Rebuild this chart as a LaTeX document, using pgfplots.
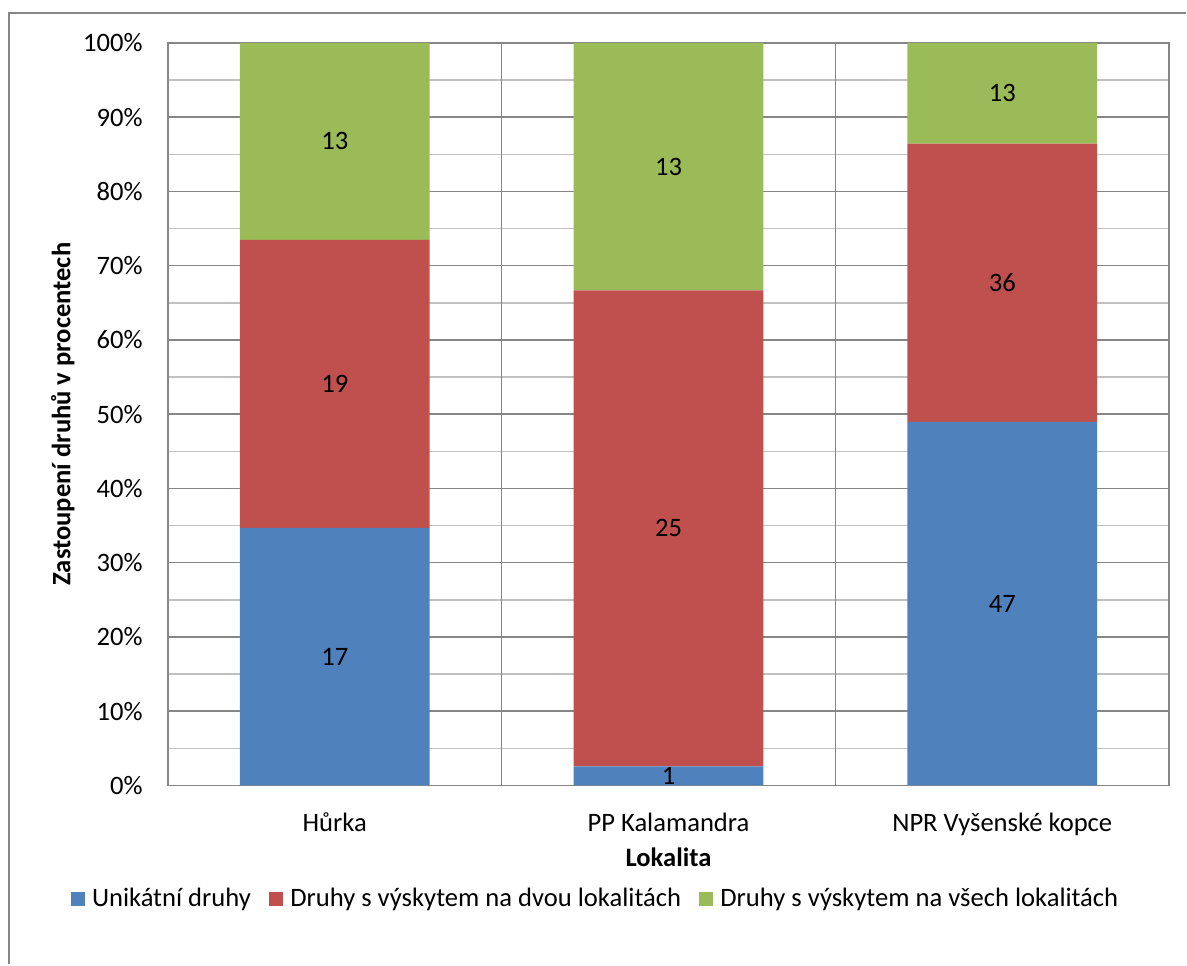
\documentclass[border=0pt]{standalone}
\usepackage{pgfplots}
\usepackage{pgfplotstable}
\pgfplotsset{compat=1.18}
\usepackage{fontspec}
\setmainfont{Carlito}
\definecolor{cblue}{HTML}{4F81BD}
\definecolor{cred}{HTML}{C0504D}
\definecolor{cgreen}{HTML}{9BBB59}
\definecolor{axgray}{HTML}{868686}
\definecolor{mingray}{HTML}{C0C0C0}
\newcommand{\chfont}{\fontsize{13.3bp}{16bp}\selectfont}

% x, percent of site total, absolute count
\pgfplotstableread{
x y n
0 34.694 17
1 2.564 1
2 48.958 47
}\uniq
\pgfplotstableread{
x y n
0 38.776 19
1 64.103 25
2 37.500 36
}\dvou
\pgfplotstableread{
x y n
0 26.531 13
1 33.333 13
2 13.542 13
}\vsech
% label positions: middle of each segment (percent), count
\pgfplotstableread{
x mid n
0 17.347 17
0 54.082 19
0 86.735 13
1 1.282 1
1 34.615 25
1 83.333 13
2 24.479 47
2 67.708 36
2 93.229 13
}\labels

\begin{document}
\chfont
\begin{tikzpicture}
\begin{axis}[
  scale only axis,
  width=501bp, height=371.5bp,
  xmin=-0.5, xmax=2.5,
  ymin=0, ymax=100,
  ybar stacked,
  bar width=95bp,
  xtick={0,1,2},
  xticklabels={Hůrka, PP Kalamandra, NPR Vyšenské kopce},
  extra x ticks={0.5,1.5},
  extra x tick labels={},
  extra x tick style={grid=major, major grid style={axgray, line width=0.75bp}},
  ytick={0,10,...,100},
  minor y tick num=1,
  ymajorgrids, yminorgrids,
  major grid style={axgray, line width=0.75bp},
  minor grid style={mingray, line width=0.75bp},
  yticklabel={\pgfmathprintnumber{\tick}\%},
  /pgf/number format/assume math mode=true,
  major tick length=0pt, minor tick length=0pt,
  axis line style={axgray, line width=0.75bp},
  tick style={draw=none},
  yticklabel style={font=\chfont, xshift=-8bp},
  xticklabel style={font=\chfont, yshift=-9bp},
  xlabel={\textbf{Lokalita}},
  ylabel={\textbf{Zastoupení druhů v procentech}},
  xlabel style={font=\chfont, at={(axis description cs:0.5,0)}, anchor=center, yshift=-36bp},
  ylabel style={font=\chfont, at={(axis description cs:0,0.5)}, anchor=center, yshift=52.5bp},
  legend style={draw=none, at={(axis description cs:0.428,-0.153)}, anchor=center,
    legend columns=-1, font=\chfont,
    /tikz/every odd column/.append style={column sep=1.7bp},
    /tikz/every even column/.append style={column sep=7bp}},
  legend image code/.code={\fill[#1] (0bp,-3.3bp) rectangle (7bp,3.7bp);},
]
\addplot[fill=cblue, draw=none] table[x=x, y=y] {\uniq};
\addplot[fill=cred, draw=none] table[x=x, y=y] {\dvou};
\addplot[fill=cgreen, draw=none] table[x=x, y=y] {\vsech};
\legend{Unikátní druhy, Druhy s výskytem na dvou lokalitách, Druhy s výskytem na všech lokalitách}
\end{axis}
\begin{axis}[
  scale only axis,
  width=501bp, height=371.5bp,
  xmin=-0.5, xmax=2.5,
  ymin=0, ymax=100,
  hide axis,
]
\addplot[only marks, mark=none, nodes near coords, point meta=explicit symbolic,
  every node near coord/.append style={anchor=center, font=\chfont, text=black}]
  table[x=x, y=mid, meta=n] {\labels};
\end{axis}
\draw[axgray, line width=0.9bp] (-79.5bp,-89.5bp) -- (-79.5bp,386.5bp) -- (509.5bp,386.5bp);
\path[use as bounding box] (-84bp,-89.5bp) rectangle (509.5bp,393bp);
\end{tikzpicture}
\end{document}
